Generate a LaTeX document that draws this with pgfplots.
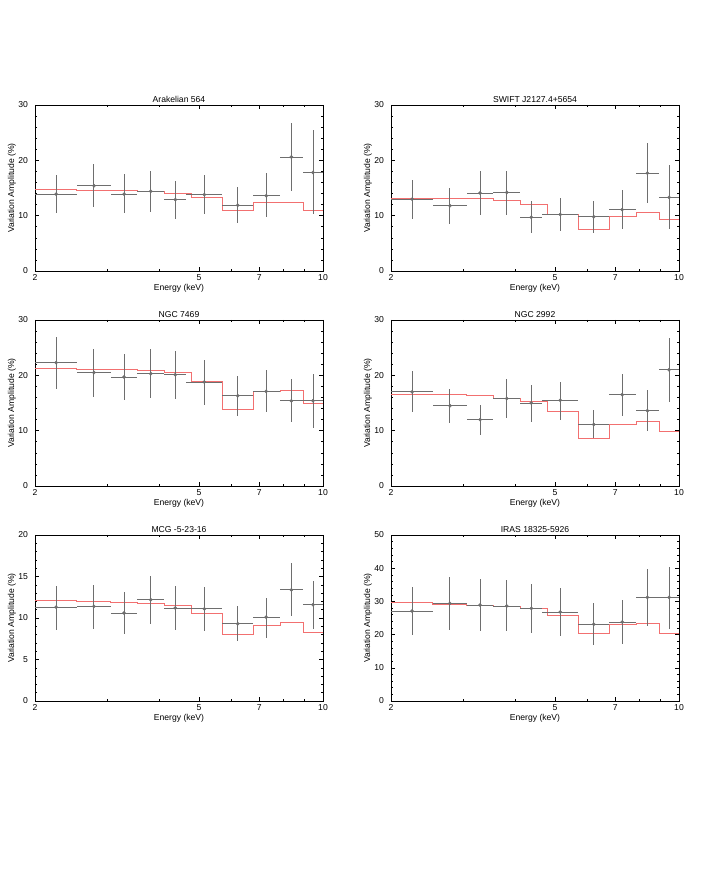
\documentclass[border=0pt]{standalone}
\usepackage{fontspec}
\setmainfont{Liberation Sans}
\usepackage{pgfplots}
\usepackage{pgfplotstable}
\pgfplotsset{compat=1.18}

\definecolor{model}{RGB}{242,112,112}
\definecolor{dat}{RGB}{110,110,110}

% model steps: left bin edge, value
\pgfplotstableread{
e v
2 14.7
2.52 14.5
3.05 14.5
3.55 14.4
4.12 14.1
4.8 13.3
5.7 10.9
6.78 12.4
7.9 12.4
8.95 10.9
10 10.9
}\modA
\pgfplotstableread{
x exm exp y hi lo
2.25 0.25 0.28 13.9 17.4 10.4
2.78 0.25 0.27 15.4 19.3 11.5
3.29 0.24 0.25 13.9 17.6 10.4
3.82 0.28 0.30 14.4 18.0 10.7
4.38 0.26 0.28 12.9 16.2 9.4
5.15 0.49 0.55 13.8 17.4 10.3
6.21 0.51 0.55 11.9 15.2 8.7
7.28 0.52 0.57 13.6 17.7 9.7
8.38 0.53 0.56 20.6 26.7 14.5
9.46 0.52 0.54 17.8 25.5 10.3
}\datA

\pgfplotstableread{
e v
2 13.2
2.52 13.2
3.05 13.1
3.55 12.7
4.12 12.1
4.8 10.3
5.7 7.5
6.78 9.8
7.9 10.6
8.95 9.3
10 9.3
}\modB
\pgfplotstableread{
x exm exp y hi lo
2.25 0.25 0.28 13.0 16.5 9.4
2.78 0.25 0.27 11.8 15.0 8.5
3.29 0.24 0.25 14.1 18.0 10.2
3.82 0.28 0.30 14.2 18.0 10.2
4.38 0.26 0.28 9.7 12.6 6.8
5.15 0.49 0.55 10.2 13.2 7.3
6.21 0.51 0.55 9.8 12.7 6.9
7.28 0.52 0.57 11.1 14.6 7.6
8.38 0.53 0.56 17.7 23.2 12.3
9.46 0.52 0.54 13.3 19.1 7.5
}\datB

\pgfplotstableread{
e v
2 21.2
2.52 21.1
3.05 21.0
3.55 20.8
4.12 20.5
4.8 18.9
5.7 13.9
6.78 17.0
7.9 17.2
8.95 14.9
10 14.9
}\modC
\pgfplotstableread{
x exm exp y hi lo
2.25 0.25 0.28 22.3 27.0 17.5
2.78 0.25 0.27 20.5 24.8 16.1
3.29 0.24 0.25 19.7 23.9 15.5
3.82 0.28 0.30 20.3 24.7 15.9
4.38 0.26 0.28 20.1 24.4 15.7
5.15 0.49 0.55 18.8 22.7 14.7
6.21 0.51 0.55 16.3 19.8 12.7
7.28 0.52 0.57 17.1 21.0 13.3
8.38 0.53 0.56 15.4 19.3 11.5
9.46 0.52 0.54 15.4 20.3 10.4
}\datC

\pgfplotstableread{
e v
2 16.5
2.52 16.5
3.05 16.3
3.55 15.9
4.12 15.3
4.8 13.5
5.7 8.6
6.78 11.2
7.9 11.6
8.95 9.8
10 9.8
}\modD
\pgfplotstableread{
x exm exp y hi lo
2.25 0.25 0.28 17.0 20.7 13.3
2.78 0.25 0.27 14.5 17.6 11.3
3.29 0.24 0.25 12.0 14.7 9.2
3.82 0.28 0.30 15.8 19.3 12.3
4.38 0.26 0.28 15.0 18.3 11.6
5.15 0.49 0.55 15.5 18.8 12.0
6.21 0.51 0.55 11.1 13.7 8.6
7.28 0.52 0.57 16.5 20.2 12.7
8.38 0.53 0.56 13.6 17.3 10.0
9.46 0.52 0.54 21.0 26.7 15.2
}\datD

\pgfplotstableread{
e v
2 12.1
2.52 12.0
3.05 11.9
3.55 11.8
4.12 11.5
4.8 10.5
5.7 8.0
6.78 9.1
7.9 9.5
8.95 8.25
10 8.25
}\modE
\pgfplotstableread{
x exm exp y hi lo
2.25 0.25 0.28 11.3 13.9 8.6
2.78 0.25 0.27 11.4 14.0 8.65
3.29 0.24 0.25 10.6 13.1 8.1
3.82 0.28 0.30 12.2 15.1 9.3
4.38 0.26 0.28 11.2 13.8 8.5
5.15 0.49 0.55 11.1 13.7 8.45
6.21 0.51 0.55 9.3 11.5 7.2
7.28 0.52 0.57 10.1 12.4 7.6
8.38 0.53 0.56 13.4 16.6 10.3
9.46 0.52 0.54 11.6 14.5 8.7
}\datE

\pgfplotstableread{
e v
2 29.7
2.52 29.2
3.05 28.9
3.55 28.6
4.12 27.9
4.8 25.8
5.7 20.2
6.78 23.0
7.9 23.3
8.95 20.2
10 20.2
}\modF
\pgfplotstableread{
x exm exp y hi lo
2.25 0.25 0.28 27.1 34.3 19.8
2.78 0.25 0.27 29.4 37.2 21.5
3.29 0.24 0.25 28.9 36.6 21.1
3.82 0.28 0.30 28.6 36.3 21.0
4.38 0.26 0.28 27.9 35.2 20.4
5.15 0.49 0.55 26.8 33.9 19.6
6.21 0.51 0.55 23.1 29.4 16.9
7.28 0.52 0.57 23.8 30.3 17.3
8.38 0.53 0.56 31.2 39.9 22.5
9.46 0.52 0.54 31.2 40.5 21.7
}\datF

\pgfkeys{/pgf/number format/assume math mode=true}
\pgfplotsset{
 mypanel/.style={
  scale only axis, width=288bp, height=166bp,
  xmin=2, xmax=10, ymin=0,
  xtick={2,5,7,10}, xticklabels={2,5,7,10},
  minor xtick={3,4,6,8,9},
  minor y tick num=4,
  tick align=inside,
  major tick length=4bp, minor tick length=2bp,
  axis line style={line width=0.8bp},
  every tick/.style={black, line width=0.5bp},
  font=\fontsize{8.6bp}{9bp}\selectfont,
  tick label style={font=\fontsize{8.6bp}{9bp}\selectfont},
  xlabel={Energy (keV)},
  ylabel={Variation Amplitude (\%)},
  every axis x label/.style={at={(axis description cs:0.5,-0.105)}, anchor=center},
  every axis y label/.style={at={(axis description cs:-0.08,0.5)}, anchor=center, rotate=90},
  every axis title/.style={at={(0.5,1)}, anchor=south, inner sep=2bp},
  yticklabel style={xshift=-3.5bp},
 },
}
\newcommand{\modelplot}[1]{%
 \addplot[color=model, line width=0.9bp, const plot mark left, mark=none]
  table[x=e, y=v] {#1};}
\newcommand{\dataplot}[1]{%
 \addplot[only marks, mark=*, mark size=1.6bp, mark options={fill=dat, draw=dat},
  error bars/x dir=both, error bars/x explicit,
  error bars/y dir=both, error bars/y explicit,
  error bars/error mark=none,
  error bars/error bar style={dat, line width=0.9bp}]
  table[x=x, y=y, x error minus=exm, x error plus=exp,
  y error plus expr=\thisrow{hi}-\thisrow{y},
  y error minus expr=\thisrow{y}-\thisrow{lo}] {#1};}

\begin{document}
\begin{tikzpicture}
\useasboundingbox (0,0) rectangle (707bp,875bp);

\begin{semilogxaxis}[mypanel, at={(35bp,604bp)}, ymax=30, ytick={0,10,20,30}, title={Arakelian 564}]
\modelplot{\modA}
\dataplot{\datA}
\end{semilogxaxis}

\begin{semilogxaxis}[mypanel, at={(391bp,604bp)}, ymax=30, ytick={0,10,20,30}, title={SWIFT J2127.4+5654}]
\modelplot{\modB}
\dataplot{\datB}
\end{semilogxaxis}

\begin{semilogxaxis}[mypanel, at={(35bp,389bp)}, ymax=30, ytick={0,10,20,30}, title={NGC 7469}]
\modelplot{\modC}
\dataplot{\datC}
\end{semilogxaxis}

\begin{semilogxaxis}[mypanel, at={(391bp,389bp)}, ymax=30, ytick={0,10,20,30}, title={NGC 2992}]
\modelplot{\modD}
\dataplot{\datD}
\end{semilogxaxis}

\begin{semilogxaxis}[mypanel, at={(35bp,174bp)}, ymax=20, ytick={0,5,10,15,20}, title={MCG -5-23-16}]
\modelplot{\modE}
\dataplot{\datE}
\end{semilogxaxis}

\begin{semilogxaxis}[mypanel, at={(391bp,174bp)}, ymax=50, ytick={0,10,20,30,40,50}, title={IRAS 18325-5926}]
\modelplot{\modF}
\dataplot{\datF}
\end{semilogxaxis}
\end{tikzpicture}
\end{document}
